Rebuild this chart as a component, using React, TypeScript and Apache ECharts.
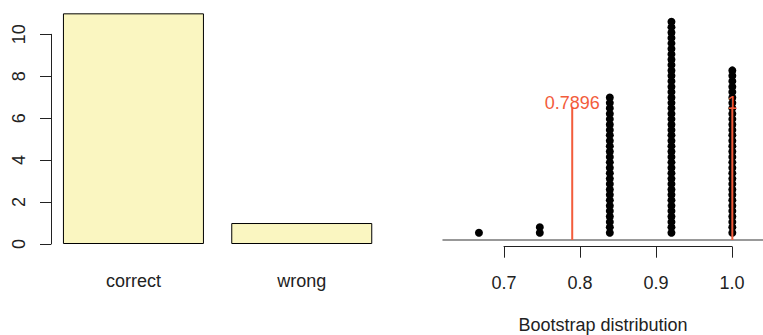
import React, { useEffect, useRef } from "react";
import * as echarts from "echarts";

const categories = ["correct", "wrong"];
const counts = [11, 1];
const countTicks = [0, 2, 4, 6, 8, 10];

const bootValues = [0.667, 0.747, 0.839, 0.92, 1.0];
const bootCounts = [1, 2, 26, 40, 31];
const ciBounds = [0.7896, 1];
const ciLabels = ["0.7896", "1"];
const ciLineTop = 24.2;
const ciLabelY = 25;
const xAxisTitle = "Bootstrap distribution";

const RED = "#F35C3B";
const FONT = "Liberation Sans, Arial, Helvetica, sans-serif";

export default function App() {
  const ref = useRef<HTMLDivElement>(null);
  useEffect(() => {
    document.body.style.margin = "0";
    const chart = echarts.init(ref.current!, null, { renderer: "svg" });

    const dots: number[][] = [];
    bootValues.forEach((v, i) => {
      for (let k = 1; k <= bootCounts[i]; k++) dots.push([v, k]);
    });

    const series: any[] = [
      {
        type: "bar",
        xAxisIndex: 0,
        yAxisIndex: 0,
        data: counts,
        barWidth: 141,
        clip: false,
        itemStyle: { color: "#FAF6C1", borderColor: "#000", borderWidth: 1 },
      },
      {
        type: "scatter",
        xAxisIndex: 1,
        yAxisIndex: 1,
        data: dots,
        symbolSize: 8,
        itemStyle: { color: "#000", opacity: 1 },
        clip: false,
        z: 2,
      },
    ];
    ciBounds.forEach((b, i) => {
      series.push({
        type: "line",
        xAxisIndex: 1,
        yAxisIndex: 1,
        data: [
          [b, -0.35],
          [b, ciLineTop],
        ],
        symbol: "none",
        lineStyle: { color: RED, width: 2, opacity: 1 },
        z: 4,
        clip: false,
      });
      series.push({
        type: "scatter",
        xAxisIndex: 1,
        yAxisIndex: 1,
        data: [[b, ciLabelY]],
        symbolSize: 1,
        itemStyle: { color: "rgba(0,0,0,0)", opacity: 1 },
        label: {
          show: true,
          position: "inside",
          formatter: ciLabels[i],
          color: RED,
          opacity: 1,
          fontSize: 18,
          fontFamily: FONT,
        },
        z: 6,
        zlevel: 0,
        clip: false,
      });
    });

    chart.setOption({
      animation: false,
      textStyle: { fontFamily: FONT },
      grid: [
        { left: 49.3, width: 336.6, top: 34.3, height: 209.7 },
        { left: 443, right: 0, top: 10.9, height: 229.1 },
        { left: 504, width: 228, top: 200, height: 46.7 },
      ],
      xAxis: [
        {
          type: "category",
          gridIndex: 0,
          data: categories,
          axisLine: { show: false },
          axisTick: { show: false },
          axisLabel: { fontSize: 18, color: "#222", margin: 28, fontFamily: FONT },
        },
        {
          type: "value",
          gridIndex: 1,
          min: 0.6198,
          max: 1.0403,
          axisLine: { show: true, onZero: false, lineStyle: { color: "#777", width: 1.5 } },
          axisTick: { show: false },
          axisLabel: { show: false },
          splitLine: { show: false },
        },
        {
          type: "value",
          gridIndex: 2,
          min: 0.7,
          max: 1.0,
          interval: 0.1,
          axisLine: { show: true, onZero: false, lineStyle: { color: "#222", width: 1 } },
          axisTick: { show: true, length: 11, lineStyle: { color: "#222" } },
          axisLabel: {
            fontSize: 18,
            color: "#222",
            margin: 27,
            fontFamily: FONT,
            formatter: (v: number) => v.toFixed(1),
          },
          splitLine: { show: false },
        },
      ],
      yAxis: [
        {
          type: "value",
          gridIndex: 0,
          min: countTicks[0],
          max: countTicks[countTicks.length - 1],
          interval: 2,
          offset: -1.7,
          axisLine: { show: true, lineStyle: { color: "#222", width: 1 } },
          axisTick: { show: true, length: 11, lineStyle: { color: "#222" } },
          axisLabel: { rotate: 90, fontSize: 18, color: "#222", margin: 23, fontFamily: FONT },
          splitLine: { show: false },
        },
        { type: "value", gridIndex: 1, min: -0.35, max: 42, show: false },
        { type: "value", gridIndex: 2, min: 0, max: 1, show: false },
      ],
      graphic: [
        {
          type: "text",
          left: 605.5 - 87,
          top: 316,
          style: { text: xAxisTitle, fontSize: 18, fill: "#222", fontFamily: FONT },
        },
      ],
      series,
    });
    return () => chart.dispose();
  }, []);
  return <div ref={ref} style={{ width: 763, height: 335 }} />;
}
